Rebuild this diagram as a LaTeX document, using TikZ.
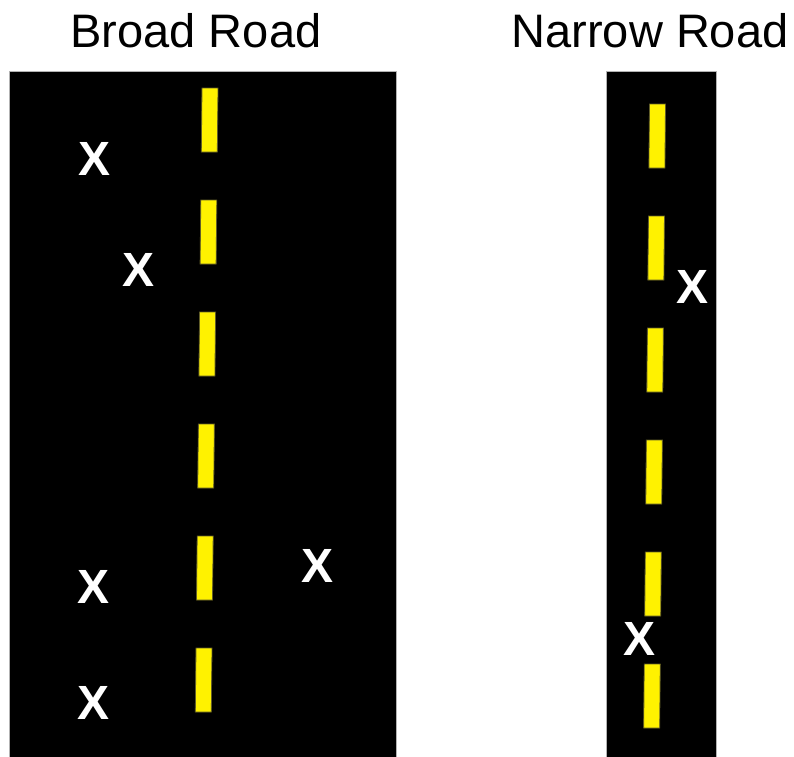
\documentclass[tikz,border=0pt]{standalone}
\usepackage{fontspec}
\setmainfont{Liberation Sans}
\usepackage{tikz}
\newcommand*{\yTop}{71}
\newcommand*{\yBot}{760}

\tikzset{
  road/.style={fill=black,draw=gray!60,line width=0.8pt},
  lane/.style={fill=yellow,draw=olive!60!black,line width=0.8pt},
  car/.style={text=white,font=\bfseries\fontsize{48}{50}\selectfont,inner sep=0pt},
  title/.style={font=\fontsize{47}{50}\selectfont,inner sep=0pt,anchor=base}
}

\begin{document}
\begin{tikzpicture}[x=1pt,y=-1pt]
    \useasboundingbox (0,0) rectangle (794,756);
    \fill [white] (0,0) rectangle (794,756);

    % the two roads
    \filldraw [road] (9,\yTop) rectangle (396,\yBot);
    \filldraw [road] (606,\yTop) rectangle (716,\yBot);

    \node [title] (broad) at (196,47) {Broad Road};
    \node [title] (narrow) at (650,47) {Narrow Road};

    % centre line
    \foreach \i in {0,...,5} {
      \pgfmathsetmacro{\t}{88+112*\i}
      \pgfmathsetmacro{\c}{210-1.2*\i}
      \filldraw [lane] (\c-8,\t) -- (\c+8,\t) -- (\c+7.3,\t+64) -- (\c-8.7,\t+64) -- cycle;
    }
    \foreach \i in {0,...,5} {
      \pgfmathsetmacro{\t}{104+112*\i}
      \pgfmathsetmacro{\c}{657.5-1.05*\i}
      \filldraw [lane] (\c-8,\t) -- (\c+8,\t) -- (\c+7.4,\t+64) -- (\c-8.6,\t+64) -- cycle;
    }

    \node [car] (b1) at (94.5,158.5) {X};
    \node [car] (b2) at (139,270) {X};
    \node [car] (b3) at (94,587) {X};
    \node [car] (b4) at (94,703) {X};
    \node [car] (b5) at (318,566) {X};
    \node [car] (n1) at (692,286.5) {X};
    \node [car] (n2) at (639,638.5) {X};
  \end{tikzpicture}
\end{document}
